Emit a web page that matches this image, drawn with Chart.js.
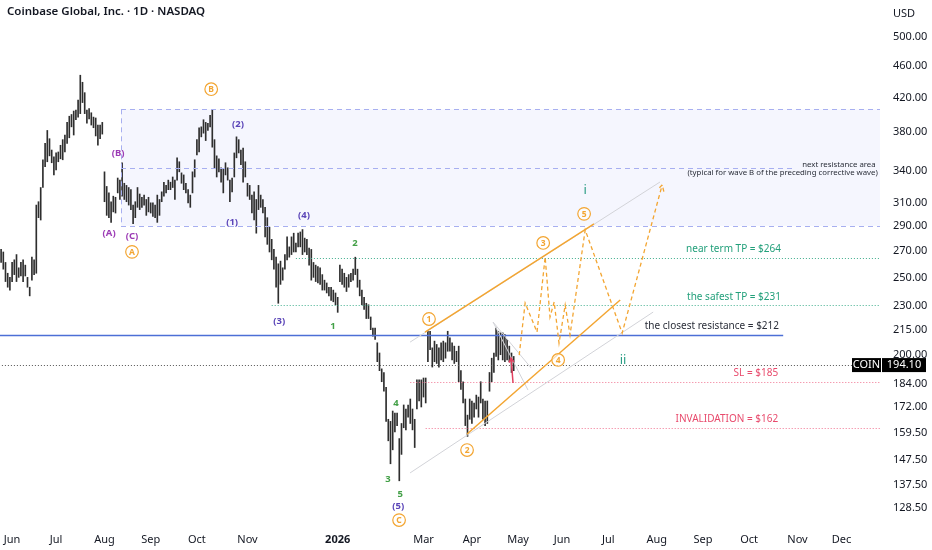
<!DOCTYPE html>
<html>
<head>
<meta charset="utf-8">
<script src="https://cdn.jsdelivr.net/npm/chart.js@4.4.1/dist/chart.umd.min.js"></script>
<style>
  html, body { margin: 0; padding: 0; background: #fff; }
  canvas { display: block; }
</style>
</head>
<body>
<canvas id="chart" width="932" height="550"></canvas>
<script>
// daily bars, x = trading day counted from Jun 2 2025
const firstBar = -5;
const barHigh = [
  271, 269, 261, 253, 250, 261, 263, 267, 257, 261, 263, 259, 250, 243, 265,
  263, 308, 311, 324, 351, 368, 382, 373, 361, 354,
  358, 359, 366, 372, 377, 391, 398, 400, 404, 405,
  417, 448, 439, 426, 405, 407, 402, 397, 396, 388,
  388, 391, 339, 325, 319, 311, 316, 315, 333, 331,
  348, 328, 326, 324, 322, 308, 311, 324, 318, 315,
  317, 313, 315, 310, 310, 308, 317, 313, 320, 329,
  326, 331, 329, 334, 331, 353, 349, 338, 336, 328,
  322, 317, 339, 351, 372, 385, 386, 394, 391, 390,
  399, 405, 372, 355, 352, 343, 342, 348, 343, 331,
  333, 358, 375, 372, 361, 363, 349, 328, 326, 317,
  320, 313, 326, 317, 313, 306, 297, 289, 279, 271,
  265, 260, 262, 257, 267, 281, 273, 281, 284, 276,
  284, 285, 287, 280, 279, 272, 271, 261, 259, 258,
  257, 252, 248, 246, 243, 243, 241, 239, 236, 259,
  256, 253, 250, 252, 253, 256, 265, 256, 248, 241,
  236, 232, 231, 223, 216, 216, 207, 201, 192, 190,
  182, 166, 165, 170, 169, 169, 157, 164, 173, 171,
  173, 176, 171, 166, 186, 186, 186, 187, 187, 214,
  214, 204, 208, 206, 204, 207, 208, 207, 214, 210,
  207, 205, 202, 205, 191, 185, 176, 168, 176, 175,
  174, 178, 177, 185, 176, 175, 175, 190, 198, 201,
  216, 214, 213, 213, 212, 209, 205, 201, 199
];
const barLow = [
  261, 256, 247, 243, 241, 247, 252, 247, 250, 251, 247, 251, 243, 237, 248,
  252, 253, 297, 295, 324, 344, 349, 355, 348, 336,
  341, 349, 352, 351, 359, 368, 374, 386, 377, 394,
  397, 401, 414, 401, 390, 395, 388, 385, 376, 366,
  373, 378, 311, 299, 297, 293, 302, 301, 319, 313,
  316, 313, 311, 308, 304, 292, 297, 306, 304, 306,
  308, 299, 302, 301, 298, 297, 293, 299, 311, 316,
  319, 322, 322, 324, 313, 331, 339, 328, 322, 319,
  310, 306, 319, 334, 356, 359, 375, 379, 371, 382,
  386, 364, 343, 334, 339, 329, 319, 336, 331, 311,
  320, 334, 353, 358, 346, 329, 334, 316, 313, 301,
  295, 284, 304, 306, 301, 281, 275, 269, 263, 256,
  243, 232, 245, 248, 256, 263, 265, 267, 269, 269,
  273, 273, 267, 269, 267, 259, 248, 250, 247, 246,
  245, 241, 241, 239, 237, 234, 233, 231, 226, 247,
  245, 243, 240, 243, 247, 248, 252, 243, 237, 231,
  228, 222, 222, 215, 211, 209, 196, 191, 185, 180,
  165, 156, 146, 152, 160, 163, 139, 150, 162, 161,
  167, 164, 161, 153, 171, 175, 172, 177, 174, 196,
  203, 193, 196, 195, 193, 197, 196, 198, 202, 202,
  197, 195, 196, 185, 181, 174, 163, 158, 166, 164,
  167, 171, 167, 174, 166, 163, 164, 180, 185, 190,
  199, 197, 200, 197, 196, 197, 196, 190, 191
];
const lastPrice = 194.10;
const priceTicks = [500, 460, 420, 380, 340, 310, 290, 270, 250, 230, 215, 200, 184, 172, 159.5, 147.5, 137.5, 128.5];
const monthPos = [0, 20, 42, 63, 84, 107, 148, 187, 209, 230, 250, 271, 293, 314, 335, 357, 377];
const monthNames = ['Jun', 'Jul', 'Aug', 'Sep', 'Oct', 'Nov', '2026', 'Mar', 'Apr', 'May', 'Jun', 'Jul', 'Aug', 'Sep', 'Oct', 'Nov', 'Dec'];

// drawings (bar index, price)
const resistanceBox = [49.5, 406, 290];
const levels = [
  // price, from, to (null = right edge), colour, dash, width
  [406, 49.5, null, '#a7aff0', [5, 4], 1],
  [343, 49.5, 356, '#a7aff0', [5, 4], 1],
  [290, 49.5, null, '#a7aff0', [5, 4], 1],
  [264, 129, null, '#3fae8c', [1, 2], 1],
  [231, 118, null, '#3fae8c', [1, 2], 1],
  [212, -6, 350.5, '#4d6fd6', [], 1.3],
  [194.10, -6, null, '#555', [1, 2], 1],
  [185, 181, null, '#f07390', [1, 2], 1],
  [162, 188, null, '#f07390', [1, 2], 1]
];
const trendLines = [
  [180.9, 207.4, 294.5, 329.2, '#d2d3d8', 1],
  [180.9, 142.2, 291.4, 226.2, '#d2d3d8', 1],
  [218.6, 219.8, 235.9, 192.5, '#d2d3d8', 1],
  [218.6, 219.8, 234.5, 180.6, '#d2d3d8', 1],
  [187.7, 213.5, 264.5, 291.7, '#f3a531', 1.5],
  [206.8, 159.1, 276.4, 234.2, '#f3a531', 1.5]
];
const pathIdx = [230.5, 233.2, 238.6, 242.3, 244.5, 246.4, 248.6, 251.4, 253.6, 260.5, 277.3, 295.5];
const pathPrice = [199.8, 232.2, 213.5, 265.1, 223, 232.9, 206.8, 230.8, 211.7, 286.7, 212.9, 326.5];
const redArrow = [227.7, 184.3, 226.8, 198.1];

const waveText = [
  ['(A)', 44.1, 284.2, '#9c3bb5'],
  ['(B)', 48.2, 357.9, '#9c3bb5'],
  ['(C)', 54.5, 281.7, '#9c3bb5'],
  ['(1)', 100, 293.4, '#5b45b8'],
  ['(2)', 102.7, 389, '#5b45b8'],
  ['(3)', 121.4, 220.4, '#5b45b8'],
  ['(4)', 132.7, 299.4, '#5b45b8'],
  ['(5)', 175.5, 129.3, '#5b45b8'],
  ['1', 145.9, 217.2, '#43a047'],
  ['2', 155.9, 276.1, '#43a047'],
  ['3', 170.9, 139.7, '#43a047'],
  ['4', 174.5, 174, '#43a047'],
  ['5', 176.4, 133.8, '#43a047']
];
const circled = [
  ['A', 54.5, 269.1], ['B', 90.5, 430.3], ['C', 175.9, 124.1],
  ['1', 189.5, 221.7], ['2', 206.8, 151.9], ['3', 241.4, 276.1],
  ['4', 248.2, 197], ['5', 260, 300.3]
];
const minorWaves = [['i', 260.5, 321.8], ['ii', 277.7, 197]];
const levelNotes = [
  // text, right edge index, price, pixel offset, colour
  ['near term TP = $264', 349.5, 264, -9, '#23a07b'],
  ['the safest TP = $231', 349.5, 231, -8, '#23a07b'],
  ['the closest resistance = $212', 348.6, 212, -8, '#2a2e39'],
  ['SL = $185', 348.2, 185, -9, '#e84a6c'],
  ['INVALIDATION = $162', 348.2, 162, -9, '#e84a6c']
];
const boxNotes = [
  ['next resistance area', 392.5, 343, -3],
  ['(typical for wave B of the preceding corrective wave)', 393.5, 343, 5]
];

const FONT = '"Noto Sans", "DejaVu Sans", sans-serif';
Chart.defaults.font.family = FONT;
Chart.defaults.color = '#131722';

const bars = barHigh.map((h, i) => ({ x: firstBar + i, y: [barLow[i], h] }));

const drawings = {
  id: 'drawings',
  beforeDatasetsDraw(chart) {
    const { ctx, chartArea: a, scales: { x, y } } = chart;
    const left = x.getPixelForValue(resistanceBox[0]);
    const top = y.getPixelForValue(resistanceBox[1]);
    const bottom = y.getPixelForValue(resistanceBox[2]);
    ctx.save();
    ctx.fillStyle = 'rgba(118, 134, 236, 0.075)';
    ctx.fillRect(left, top, a.right - left, bottom - top);
    ctx.restore();
  },
  afterDatasetsDraw(chart) {
    const { ctx, chartArea: a, scales: { x, y } } = chart;
    const px = v => x.getPixelForValue(v);
    const py = v => y.getPixelForValue(v);
    ctx.save();
    ctx.beginPath();
    ctx.rect(a.left, a.top, a.right - a.left, a.bottom - a.top);
    ctx.clip();

    levels.forEach(([price, from, to, color, dash, width]) => {
      const yy = Math.round(py(price)) + 0.5;
      ctx.beginPath();
      ctx.setLineDash(dash);
      ctx.strokeStyle = color;
      ctx.lineWidth = width;
      ctx.moveTo(px(from), yy);
      ctx.lineTo(to === null ? a.right : px(to), yy);
      ctx.stroke();
    });
    // left edge of the box
    ctx.beginPath();
    ctx.setLineDash([5, 4]);
    ctx.strokeStyle = '#a7aff0';
    ctx.lineWidth = 1;
    const bx = Math.round(px(resistanceBox[0])) + 0.5;
    ctx.moveTo(bx, py(resistanceBox[1]));
    ctx.lineTo(bx, py(resistanceBox[2]));
    ctx.stroke();

    ctx.setLineDash([]);
    trendLines.forEach(([i1, p1, i2, p2, color, width]) => {
      ctx.beginPath();
      ctx.strokeStyle = color;
      ctx.lineWidth = width;
      ctx.moveTo(px(i1), py(p1));
      ctx.lineTo(px(i2), py(p2));
      ctx.stroke();
    });

    // projected path
    ctx.beginPath();
    ctx.setLineDash([4, 3]);
    ctx.strokeStyle = '#f3a531';
    ctx.lineWidth = 1.3;
    pathIdx.forEach((v, i) => {
      if (i === 0) ctx.moveTo(px(v), py(pathPrice[i]));
      else ctx.lineTo(px(v), py(pathPrice[i]));
    });
    ctx.stroke();
    const n = pathIdx.length;
    const tx = px(pathIdx[n - 1]), ty = py(pathPrice[n - 1]);
    const ang = Math.atan2(ty - py(pathPrice[n - 2]), tx - px(pathIdx[n - 2]));
    ctx.beginPath();
    ctx.moveTo(tx - 7 * Math.cos(ang - 0.5), ty - 7 * Math.sin(ang - 0.5));
    ctx.lineTo(tx, ty);
    ctx.lineTo(tx - 7 * Math.cos(ang + 0.5), ty - 7 * Math.sin(ang + 0.5));
    ctx.stroke();

    // red arrow on the last bars
    ctx.setLineDash([]);
    ctx.strokeStyle = '#e2405f';
    ctx.lineWidth = 1.5;
    const ax = px(redArrow[2]), ay = py(redArrow[3]);
    const a2 = Math.atan2(ay - py(redArrow[1]), ax - px(redArrow[0]));
    ctx.beginPath();
    ctx.moveTo(px(redArrow[0]), py(redArrow[1]));
    ctx.lineTo(ax, ay);
    ctx.moveTo(ax - 5 * Math.cos(a2 - 0.5), ay - 5 * Math.sin(a2 - 0.5));
    ctx.lineTo(ax, ay);
    ctx.lineTo(ax - 5 * Math.cos(a2 + 0.5), ay - 5 * Math.sin(a2 + 0.5));
    ctx.stroke();

    ctx.textAlign = 'center';
    ctx.textBaseline = 'middle';
    waveText.forEach(([t, i, p, color]) => {
      ctx.fillStyle = color;
      ctx.font = 'bold 9.5px ' + FONT;
      ctx.fillText(t, px(i), py(p));
    });
    circled.forEach(([t, i, p]) => {
      const cx = px(i), cy = py(p);
      ctx.beginPath();
      ctx.arc(cx, cy, 6.3, 0, Math.PI * 2);
      ctx.fillStyle = 'rgba(255, 255, 255, 0.6)';
      ctx.fill();
      ctx.strokeStyle = '#f3a531';
      ctx.lineWidth = 1.2;
      ctx.stroke();
      ctx.fillStyle = '#f3a531';
      ctx.font = 'bold 8.5px ' + FONT;
      ctx.fillText(t, cx, cy + 0.5);
    });
    minorWaves.forEach(([t, i, p]) => {
      ctx.fillStyle = '#2a9d84';
      ctx.font = '13px ' + FONT;
      ctx.fillText(t, px(i), py(p));
    });

    ctx.textAlign = 'right';
    levelNotes.forEach(([t, i, p, off, color]) => {
      ctx.fillStyle = color;
      ctx.font = '10px ' + FONT;
      ctx.fillText(t, px(i), py(p) + off);
    });
    ctx.fillStyle = '#2a2e39';
    ctx.font = '7.8px ' + FONT;
    boxNotes.forEach(([t, i, p, off]) => ctx.fillText(t, px(i), py(p) + off));
    ctx.restore();
  },
  afterDraw(chart) {
    const { ctx, chartArea: a, scales: { y } } = chart;
    ctx.save();
    ctx.textBaseline = 'middle';
    ctx.fillStyle = '#131722';
    ctx.font = '600 11.5px ' + FONT;
    ctx.textAlign = 'left';
    ctx.fillText('Coinbase Global, Inc. \u00b7 1D \u00b7 NASDAQ', 7, 12);
    ctx.font = '11px ' + FONT;
    ctx.fillText('USD', 893, 14);

    const ly = y.getPixelForValue(lastPrice);
    ctx.fillStyle = '#000';
    ctx.fillRect(a.right - 28, ly - 7, 29, 14);
    ctx.fillRect(a.right + 2, ly - 7, 44, 14);
    ctx.fillStyle = '#fff';
    ctx.font = '11px ' + FONT;
    ctx.textAlign = 'center';
    ctx.fillText('COIN', a.right - 13.5, ly);
    ctx.fillText(lastPrice.toFixed(2), a.right + 24, ly);
    ctx.restore();
  }
};

new Chart(document.getElementById('chart'), {
  type: 'bar',
  data: {
    datasets: [{
      data: bars,
      backgroundColor: '#2e2e2e',
      borderWidth: 0,
      barThickness: 1
    }]
  },
  options: {
    responsive: false,
    animation: false,
    layout: { padding: 0, autoPadding: false },
    plugins: {
      legend: { display: false },
      tooltip: { enabled: false }
    },
    scales: {
      x: {
        type: 'linear',
        min: -5.5,
        max: 394.5,
        bounds: 'data',
        offset: false,
        grid: { display: false, drawTicks: false },
        border: { display: false },
        afterBuildTicks: scale => { scale.ticks = monthPos.map(v => ({ value: v })); },
        afterFit: scale => { scale.height = 22; scale.paddingLeft = 0; scale.paddingRight = 0; },
        ticks: {
          autoSkip: false,
          maxRotation: 0,
          padding: 5,
          color: '#131722',
          font: c => (c.tick && c.tick.value === monthPos[6]) ? { size: 11, weight: 'bold' } : { size: 11 },
          callback: v => monthNames[monthPos.indexOf(v)]
        }
      },
      y: {
        type: 'logarithmic',
        position: 'right',
        min: 121.3,
        max: 556.6,
        bounds: 'data',
        grid: { display: false, drawTicks: false },
        border: { display: false },
        afterBuildTicks: scale => { scale.ticks = priceTicks.map(v => ({ value: v })); },
        afterFit: scale => { scale.width = 52; scale.paddingTop = 0; scale.paddingBottom = 0; },
        ticks: {
          padding: 13,
          color: '#131722',
          font: { size: 11 },
          callback: v => Number(v).toFixed(2)
        }
      }
    }
  },
  plugins: [drawings]
});
</script>
</body>
</html>
